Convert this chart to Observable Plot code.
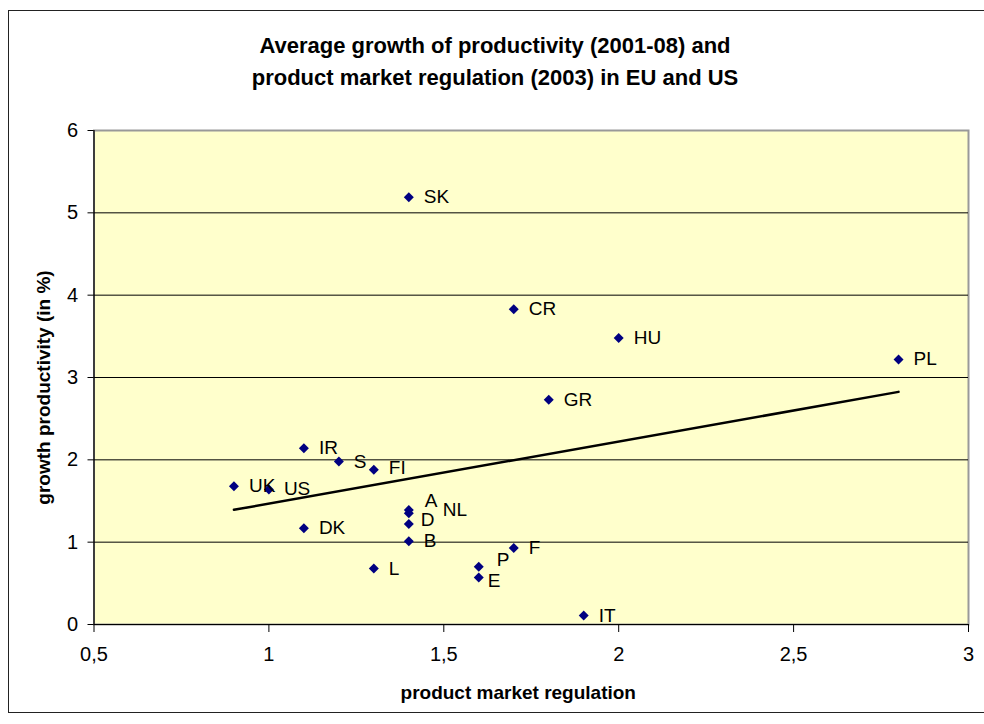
<!DOCTYPE html>
<html>
<head>
<meta charset="utf-8">
<script src="https://cdn.jsdelivr.net/npm/d3@7"></script>
<script src="https://cdn.jsdelivr.net/npm/@observablehq/plot@0.6"></script>
<style>
  html, body { margin: 0; padding: 0; background: #fff; }
  #wrap { position: relative; width: 984px; height: 724px; overflow: hidden; font-family: "Liberation Sans", Arial, sans-serif; }
  #border { position: absolute; left: 8px; top: 10px; width: 1000px; height: 703px; border: 1.5px solid #222; box-sizing: border-box; }
  #title { position: absolute; left: 8px; width: 974px; top: 30px; text-align: center; font-weight: bold; font-size: 22px; line-height: 32px; color: #000; }
  #chart { position: absolute; left: 0; top: 0; }
</style>
</head>
<body>
<div id="wrap">
  <div id="border"></div>
  <div id="chart"></div>
  <div id="title">Average growth of productivity (2001-08) and<br>product market regulation (2003) in EU and US</div>
</div>
<script>
// Data
const countries = ["SK","CR","HU","PL","GR","IR","S","FI","UK","US","NL","A","D","B","DK","L","P","E","F","IT"];
const regulation = [1.4,1.7,2.0,2.8,1.8,1.1,1.2,1.3,0.9,1.0,1.4,1.4,1.4,1.4,1.1,1.3,1.6,1.6,1.7,1.9];
const productivity = [5.19,3.83,3.48,3.22,2.73,2.14,1.98,1.88,1.68,1.64,1.39,1.35,1.22,1.01,1.17,0.68,0.70,0.57,0.93,0.11];
const xTicks = [0.5,1,1.5,2,2.5,3];
const xTickLabels = ["0,5","1","1,5","2","2,5","3"];
const yTicks = [0,1,2,3,4,5,6];

const data = countries.map((c, i) => ({name: c, x: regulation[i], y: productivity[i]}));

// label placement tweaks (pixels) for crowded labels
const labelShift = {A: [16, -12], NL: [34, 0], D: [12, -4], P: [18, -7], E: [9, 3], FI: [15, -2], US: [15, -1]};
const shifted = Object.keys(labelShift);

const font = "Liberation Sans, Arial, sans-serif";
const labelSize = 19;

const labelMarks = [
  Plot.text(data, {filter: d => !shifted.includes(d.name), x: "x", y: "y", text: "name", dx: 15, textAnchor: "start", fontSize: labelSize, fill: "#000"})
].concat(shifted.map(n => Plot.text(data, {filter: d => d.name === n, x: "x", y: "y", text: "name", dx: labelShift[n][0], dy: labelShift[n][1], textAnchor: "start", fontSize: labelSize, fill: "#000"})));

const chart = Plot.plot({
  width: 984,
  height: 724,
  marginLeft: 93.5,
  marginRight: 16,
  marginTop: 130,
  marginBottom: 100,
  style: {fontFamily: font, fontSize: "20px", color: "#000", background: "transparent"},
  x: {domain: [0.5, 3]},
  y: {domain: [0, 6]},
  marks: [
    Plot.frame({fill: "#FFFFCC", stroke: "#999999", strokeWidth: 2}),
    Plot.gridY(yTicks.slice(1, -1), {stroke: "#000", strokeOpacity: 1, strokeWidth: 1}),
    Plot.ruleX([0.5], {stroke: "#000", strokeWidth: 1.2}),
    Plot.ruleY([0], {stroke: "#000", strokeWidth: 1.2}),
    Plot.axisY({ticks: yTicks, tickSize: 6, tickPadding: 10, tickFormat: d => String(d), label: "growth productivity (in %)", labelAnchor: "center", labelArrow: "none", labelOffset: 58}),
    Plot.axisX({ticks: xTicks, tickSize: 8, tickPadding: 14, tickFormat: d => xTickLabels[xTicks.indexOf(d)], label: "product market regulation", labelAnchor: "center", labelArrow: "none", labelOffset: 74}),
    Plot.linearRegressionY(data, {x: "x", y: "y", ci: 0, stroke: "#000", strokeWidth: 2.5}),
    Plot.dot(data, {x: "x", y: "y", symbol: "diamond2", r: 4.5, fill: "#000080", stroke: "none"}),
    ...labelMarks
  ]
});
document.getElementById("chart").appendChild(chart);
// axis titles bold, nudged to match the reference
chart.querySelectorAll("g[aria-label='y-axis label'] text").forEach(t => { t.setAttribute("font-weight", "bold"); t.setAttribute("font-size", "19"); t.setAttribute("dx", "-10"); });
chart.querySelectorAll("g[aria-label='x-axis label'] text").forEach(t => { t.setAttribute("font-weight", "bold"); t.setAttribute("font-size", "19"); t.setAttribute("dx", "-13"); });
</script>
</body>
</html>
